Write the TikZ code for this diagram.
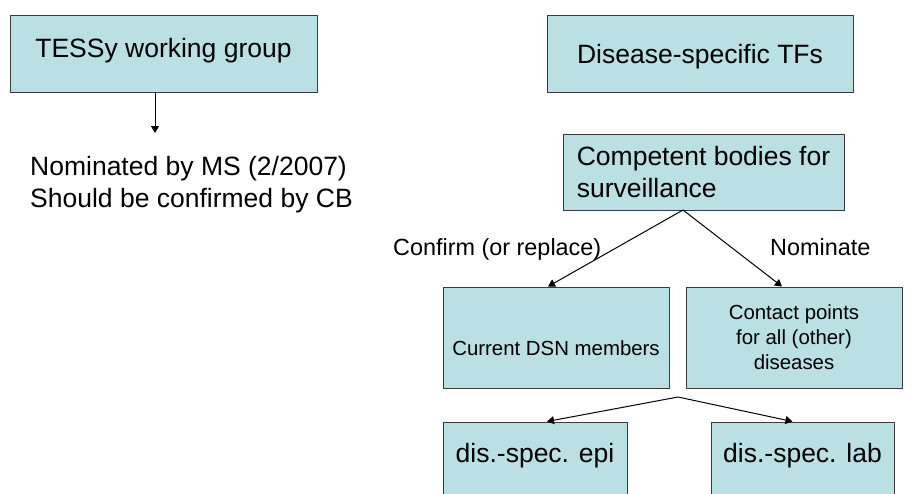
\documentclass[tikz,border=0pt]{standalone}
\usepackage{fontspec}
\setmainfont{Liberation Sans}
\usetikzlibrary{arrows.meta}
\definecolor{boxfill}{RGB}{186,224,228}
\definecolor{boxline}{RGB}{60,60,60}

\begin{document}
\begin{tikzpicture}[x=1pt,y=-1pt]
    \tikzstyle{box}=[draw=boxline, fill=boxfill, line width=1pt, rectangle, inner sep=0pt]
    \tikzstyle{arr}=[-{Triangle[length=7pt,width=8pt]}, line width=1pt]
    \tikzstyle{big}=[font=\fontsize{26.5}{32}\selectfont]
    \tikzstyle{mid}=[font=\fontsize{23.4}{28}\selectfont]
    \tikzstyle{small}=[font=\fontsize{20.4}{25}\selectfont]
    \useasboundingbox (0,0) rectangle (912,493);
    % left side
    \node[box, big, minimum width=307pt, text height=42pt, text depth=35pt] (tessy) at (163.5,53.5) {TESSy working group};
    \coordinate (tessyend) at (155,133);
    \draw[arr] (tessy.south -| tessyend) -- (tessyend);
    \node[big, align=left, anchor=north west, inner sep=0pt] (nominated) at (30,156) {Nominated by MS (2/2007)\\Should be confirmed by CB};
    % right side
    \node[box, big, minimum width=306pt, text height=48pt, text depth=29pt] (tfs) at (700,53.5) {Disease-specific TFs};
    \node[box, big, align=left, minimum width=281pt, minimum height=76pt] (cb) at (703.5,172) {Competent bodies for\\surveillance};
    \node[mid, anchor=base west, inner sep=0pt] (confirm) at (393,255) {Confirm (or replace)};
    \node[mid, anchor=base west, inner sep=0pt] (nominate) at (770,255) {Nominate};
    \node[box, small, minimum width=226pt, text height=68pt, text depth=33pt] (dsn) at (556,337.5) {Current DSN members};
    \node[box, small, align=center, minimum width=216pt, minimum height=101pt] (cp) at (794,337.5) {Contact points\\for all (other)\\diseases};
    \coordinate (cbfork) at (683,210);
    \draw[arr] (cbfork) -- ([xshift=-8pt]dsn.north);
    \draw[arr] (cbfork) -- ([xshift=-12pt]cp.north);
    % bottom row
    \node[box, big, minimum width=184pt, text height=40pt, text depth=58pt] (epi) at (535,471) {dis.-spec. epi};
    \node[box, big, minimum width=183pt, text height=40pt, text depth=58pt] (lab) at (802.5,471) {dis.-spec. lab};
    \coordinate (cpfork) at (678,397);
    \draw[arr] (cpfork) -- ([xshift=12pt]epi.north);
    \draw[arr] (cpfork) -- ([xshift=-10pt]lab.north);
\end{tikzpicture}
\end{document}
